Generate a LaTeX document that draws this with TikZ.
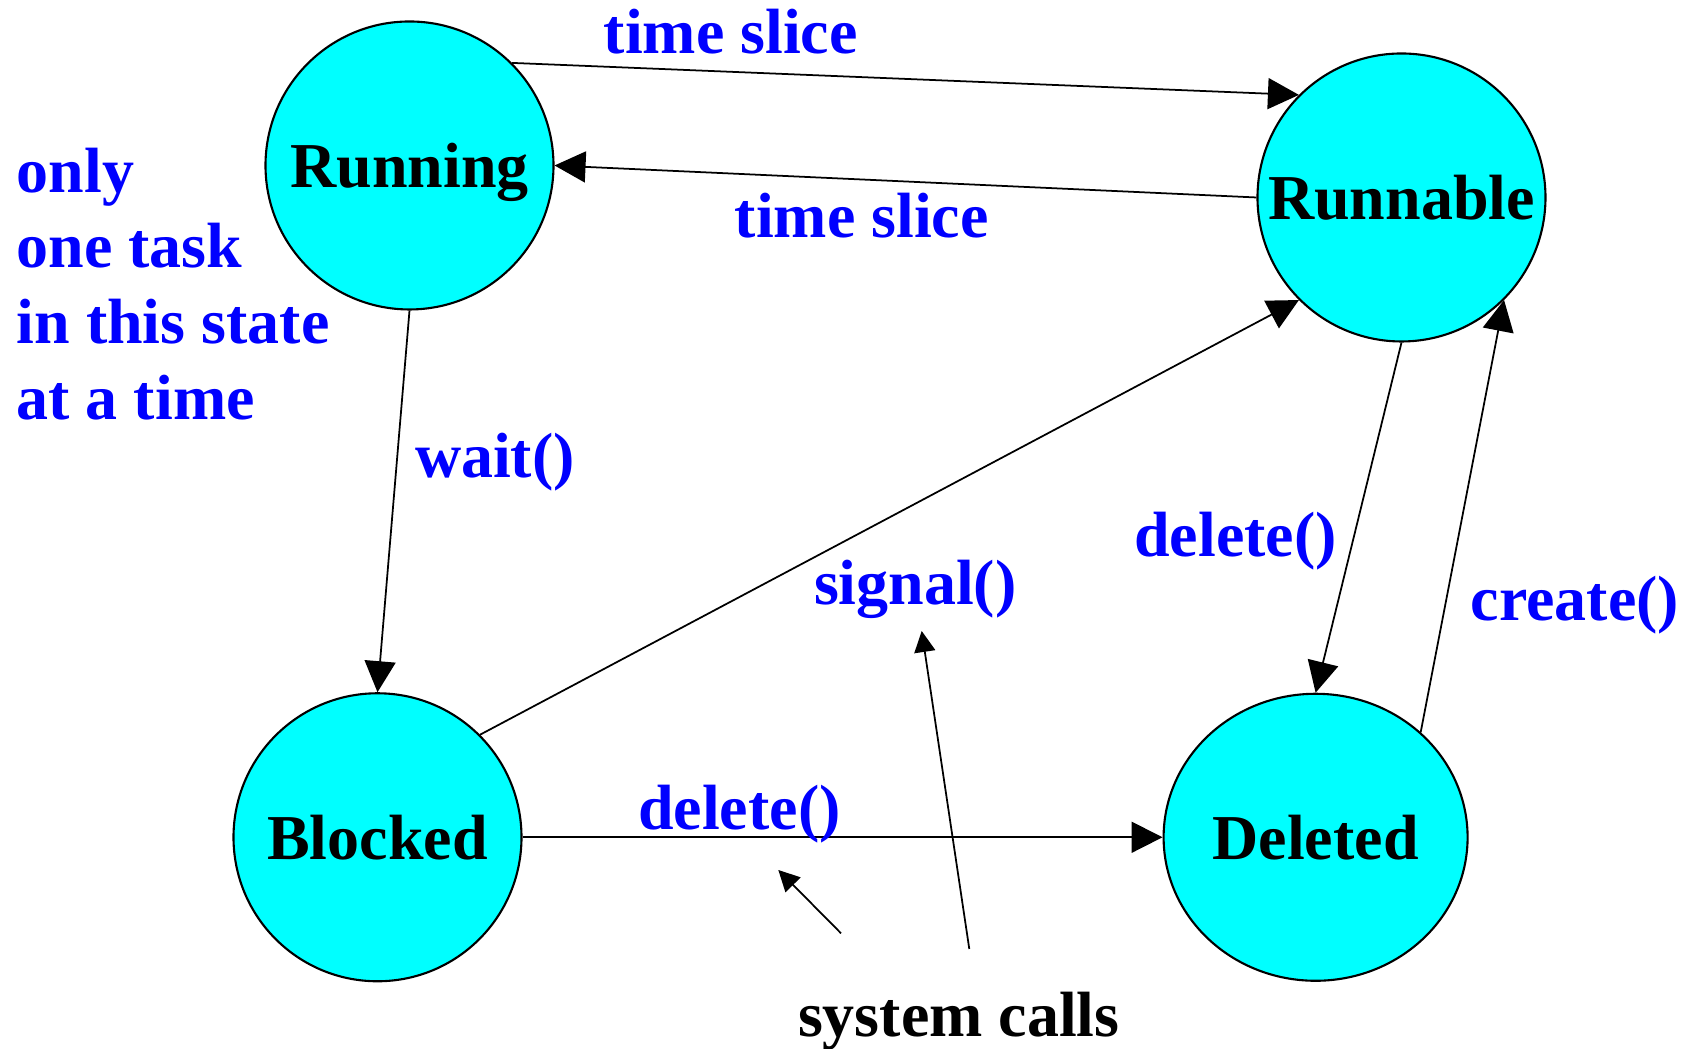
\documentclass[tikz,border=0pt]{standalone}
\usepackage{fontspec}
\setmainfont{Liberation Serif}
\usetikzlibrary{arrows.meta,positioning,shapes.geometric}
\definecolor{statecyan}{RGB}{0,255,255}
\definecolor{callblue}{RGB}{0,0,255}
\tikzset{
    statenode/.style={circle, draw, line width=0.6pt, fill=statecyan, inner sep=0pt,
        minimum size=2.88cm, text height=0.45cm, text depth=0pt,
        font=\fontsize{18.2}{21.6}\selectfont\bfseries},
    calllabel/.style={anchor=base west, inner sep=0pt, text=callblue,
        font=\fontsize{18.2}{21.6}\selectfont\bfseries},
    statearrow/.style={-{Triangle[length=3.1mm, width=3.1mm]}, line width=0.5pt},
    notearrow/.style={-{Triangle[length=2.1mm, width=2.1mm]}, line width=0.5pt}
}

\begin{document}
\begin{tikzpicture}
\useasboundingbox (0,0) rectangle (16.82,10.49);
% states
\node[statenode] (run) at (4.095,8.835) {Running};
\node[statenode] (rdy) at (14.015,8.515) {Runnable};
\node[statenode] (blk) at (3.775,2.117) {Blocked};
\node[statenode, ellipse, minimum width=3.04cm, minimum height=2.87cm,
    right=6.4cm of blk] (del) {Deleted};

% transitions
\draw[statearrow] (run.45) -- (rdy.135);
\draw[statearrow] (rdy.west) -- (run.east);
\draw[statearrow] (run.south) -- (blk.north);
\draw[statearrow] (blk.45) -- (rdy.225);
\draw[statearrow] (rdy.south) -- (del.north);
\draw[statearrow] (del.45) -- (rdy.-45);
\draw[statearrow] (blk.east) -- (del.west);

% labels
\node[calllabel] (slice1) at (6.03,9.957) {time slice};
\node[calllabel] (slice2) at (7.34,8.117) {time slice};
\node[calllabel] (wait) at (4.143,5.717) {wait()};
\node[calllabel] (signal) at (8.133,4.44) {signal()};
\node[calllabel] (delrdy) at (11.336,4.923) {delete()};
\node[calllabel] (create) at (14.70,4.283) {create()};
\node[calllabel] (delblk) at (6.375,2.197) {delete()};
\node[calllabel, anchor=north west, align=left] (note) at (0.16,9.02)
    {only\\one task\\in this state\\at a time};

% system calls
\node[calllabel, text=black] (sys) at (7.973,0.123) {system calls};
\coordinate (sysa) at (8.41,1.157);
\coordinate (sysb) at (9.693,1.0);
\coordinate (tipa) at (7.783,1.79);
\coordinate (tipb) at (9.217,4.18);
\draw[notearrow] (sysa) -- (tipa);
\draw[notearrow] (sysb) -- (tipb);
\end{tikzpicture}
\end{document}
